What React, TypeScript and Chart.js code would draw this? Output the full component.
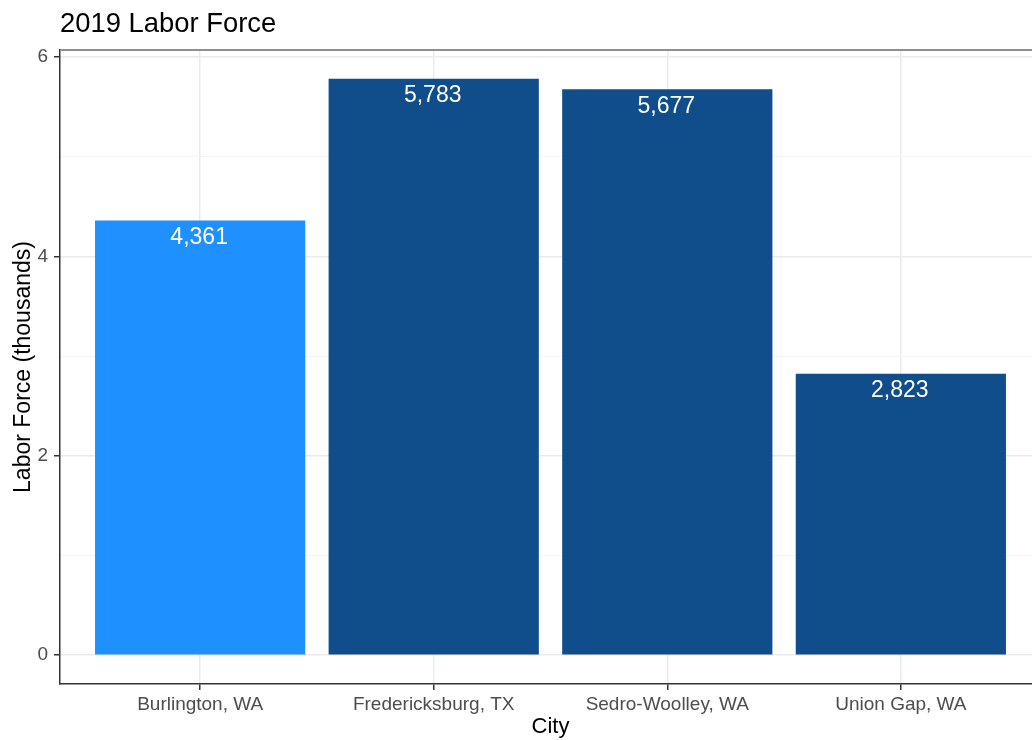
import React, { useEffect, useRef } from 'react';
import { Chart, registerables } from 'chart.js';

Chart.register(...registerables);

const chartTitle = '2019 Labor Force';
const xAxisTitle = 'City';
const yAxisTitle = 'Labor Force (thousands)';
const cities = ['Burlington, WA', 'Fredericksburg, TX', 'Sedro-Woolley, WA', 'Union Gap, WA'];
const laborForce = [4.361, 5.783, 5.677, 2.823];
const barColors = ['#1E90FF', '#104E8B', '#104E8B', '#104E8B'];
const yTickValues = [0, 1, 2, 3, 4, 5, 6];
const yLabelledTicks = [0, 2, 4, 6];
const xRange = [-0.6, 3.6];
const yRange = [-0.289, 6.072];

const FONT = '"Liberation Sans", Arial, Helvetica, sans-serif';

const titlePlugin = {
  id: 'ggTitle',
  afterDraw(chart: any) {
    const { ctx, chartArea } = chart;
    ctx.save();
    ctx.font = `27.4px ${FONT}`;
    ctx.fillStyle = '#000000';
    ctx.textAlign = 'left';
    ctx.textBaseline = 'middle';
    ctx.fillText(chartTitle, chartArea.left, 24);
    ctx.restore();
  },
};

const borderPlugin = {
  id: 'panelTop',
  afterDatasetsDraw(chart: any) {
    const { ctx, chartArea } = chart;
    ctx.save();
    ctx.strokeStyle = '#8f8f8f';
    ctx.lineWidth = 2;
    ctx.beginPath();
    ctx.moveTo(chartArea.left, chartArea.top);
    ctx.lineTo(chartArea.right, chartArea.top);
    ctx.stroke();
    ctx.restore();
  },
};

const valueLabelPlugin = {
  id: 'valueLabels',
  afterDatasetsDraw(chart: any) {
    const { ctx } = chart;
    const meta = chart.getDatasetMeta(0);
    ctx.save();
    ctx.font = `23px ${FONT}`;
    ctx.fillStyle = '#ffffff';
    ctx.textAlign = 'center';
    ctx.textBaseline = 'middle';
    meta.data.forEach((bar: any, i: number) => {
      const label = Math.round(laborForce[i] * 1000).toLocaleString('en-US');
      ctx.fillText(label, bar.x - 1, bar.y + 17);
    });
    ctx.restore();
  },
};

export default function App() {
  const canvasRef = useRef<HTMLCanvasElement | null>(null);

  useEffect(() => {
    document.body.style.margin = '0';
    document.body.style.overflow = 'hidden';
    const canvas = canvasRef.current;
    if (!canvas) return;
    const chart = new Chart(canvas, {
      type: 'bar',
      data: {
        datasets: [
          {
            data: laborForce.map((v, i) => ({ x: i, y: v })),
            backgroundColor: barColors,
            borderWidth: 0,
            barPercentage: 0.9,
            categoryPercentage: 1.0,
          },
        ],
      },
      options: {
        responsive: false,
        animation: false,
        devicePixelRatio: 1,
        layout: { padding: { top: 50, right: 19, left: 0, bottom: 0 } },
        plugins: {
          legend: { display: false },
          tooltip: { enabled: false },
          title: { display: false },
        },
        scales: {
          x: {
            type: 'linear',
            min: xRange[0],
            max: xRange[1],
            offset: false,
            afterFit: (s: any) => {
              s.height = 56;
            },
            afterBuildTicks: (axis: any) => {
              axis.ticks = cities.map((_, i) => ({ value: i }));
            },
            ticks: {
              autoSkip: false,
              maxRotation: 0,
              padding: 3,
              color: '#4d4d4d',
              font: { family: FONT, size: 19 },
              callback: (v: any) => cities[v] ?? '',
            },
            grid: {
              offset: false,
              color: '#ebebeb',
              lineWidth: 1.5,
              tickLength: 6,
              tickColor: '#333333',
              tickWidth: 1.5,
            },
            border: { display: true, color: '#333333', width: 1.5 },
            title: {
              display: true,
              text: xAxisTitle,
              color: '#000000',
              font: { family: FONT, size: 22 },
              padding: { top: 0, bottom: 0 },
            },
          },
          y: {
            type: 'linear',
            min: yRange[0],
            max: yRange[1],
            afterFit: (s: any) => {
              s.width = 60;
            },
            afterBuildTicks: (axis: any) => {
              axis.ticks = yTickValues.map((v) => ({ value: v }));
            },
            ticks: {
              padding: 6,
              color: '#4d4d4d',
              font: { family: FONT, size: 19 },
              callback: (v: any) => (yLabelledTicks.includes(v) ? String(v) : ''),
            },
            grid: {
              color: (c: any) => (yLabelledTicks.includes(c.tick?.value) ? '#ebebeb' : '#f5f5f5'),
              lineWidth: (c: any) => (yLabelledTicks.includes(c.tick?.value) ? 1.5 : 1),
              tickLength: 6,
              tickColor: (c: any) => (yLabelledTicks.includes(c.tick?.value) ? '#333333' : 'rgba(0,0,0,0)'),
              tickWidth: 1.5,
            },
            border: { display: true, color: '#333333', width: 1.5 },
            title: {
              display: true,
              text: yAxisTitle,
              color: '#000000',
              font: { family: FONT, size: 23 },
              padding: { top: 10, bottom: 0 },
            },
          },
        },
      } as any,
      plugins: [titlePlugin, borderPlugin, valueLabelPlugin],
    });
    return () => chart.destroy();
  }, []);

  return (
    <div style={{ width: 1060, height: 740 }}>
      <canvas ref={canvasRef} width={1060} height={740} style={{ display: 'block' }} />
    </div>
  );
}
